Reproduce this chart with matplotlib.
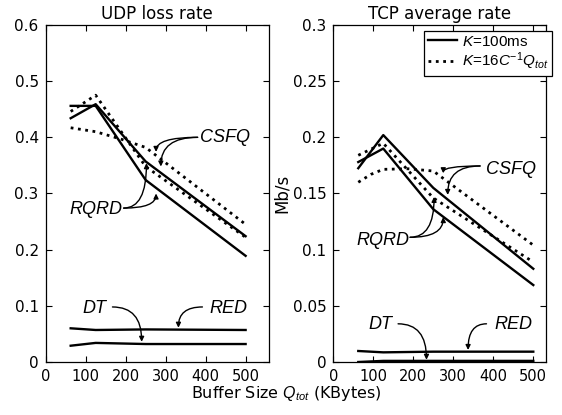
import numpy as np
import matplotlib
matplotlib.use("Agg")
import matplotlib.pyplot as plt

plt.rcParams['font.family'] = 'DejaVu Sans'
plt.rcParams['mathtext.fontset'] = 'custom'
plt.rcParams['mathtext.rm'] = 'Liberation Sans'
plt.rcParams['mathtext.it'] = 'Liberation Sans:italic'

# buffer sizes (KBytes)
qtot = [62.5, 125, 250, 500]

# UDP loss rate
udp_csfq_k100 = [0.434, 0.459, 0.357, 0.224]
udp_rqrd_k100 = [0.456, 0.456, 0.324, 0.189]
udp_rqrd_k16 = [0.446, 0.475, 0.348, 0.222]
udp_csfq_k16_x = [62.5, 125, 187.5, 250, 500]
udp_csfq_k16 = [0.417, 0.410, 0.397, 0.382, 0.245]
udp_red = [0.060, 0.057, 0.058, 0.057]
udp_dt = [0.029, 0.034, 0.032, 0.032]

# TCP average rate (Mb/s)
tcp_csfq_k100 = [0.1725, 0.202, 0.155, 0.083]
tcp_rqrd_k100 = [0.178, 0.190, 0.136, 0.0685]
tcp_rqrd_k16 = [0.184, 0.1947, 0.146, 0.089]
tcp_csfq_k16_x = [62.5, 94, 125, 187.5, 250, 500]
tcp_csfq_k16 = [0.160, 0.167, 0.1715, 0.172, 0.170, 0.104]
tcp_red = [0.0098, 0.0086, 0.0092, 0.0092]
tcp_dt = [0.0, 0.001, 0.001, 0.001]

LW = 1.7
XTICK_FS = 10.5
YTICK_FS = 11
LABEL_FS = 12
NOTE_FS = 13


def style_axes(ax, xmax, ymax, yticks):
    ax.set_xlim(0, xmax)
    ax.set_ylim(0, ymax)
    ax.set_xticks([0, 100, 200, 300, 400, 500])
    ax.set_yticks(yticks)
    ax.set_yticklabels(['0' if t == 0 else ('%g' % t) for t in yticks])
    ax.tick_params(direction='in', length=4, width=0.8, top=True, right=True)
    ax.tick_params(axis='x', labelsize=XTICK_FS, pad=5)
    ax.tick_params(axis='y', labelsize=YTICK_FS, pad=5)
    for s in ax.spines.values():
        s.set_linewidth(0.9)


def note(ax, text, xy):
    ax.text(xy[0], xy[1], text, fontsize=NOTE_FS, style='italic',
            family='Liberation Sans', ha='center', va='center')


def arrow(ax, start, end, angleB=90):
    ax.annotate('', xy=end, xytext=start,
                arrowprops=dict(arrowstyle='-|>', color='k', lw=1.0,
                                mutation_scale=7, shrinkA=0, shrinkB=0,
                                connectionstyle='angle3,angleA=0,angleB=%d' % angleB))


fig = plt.figure(figsize=(5.62, 4.15), dpi=100)
ax1 = fig.add_axes([0.0813, 0.1277, 0.397, 0.8121])
ax2 = fig.add_axes([0.593, 0.1277, 0.378, 0.8121])

# left: UDP loss rate
ax1.plot(qtot, udp_csfq_k100, 'k-', lw=LW)
ax1.plot(qtot, udp_rqrd_k100, 'k-', lw=LW)
ax1.plot(qtot, udp_rqrd_k16, 'k:', lw=LW + 0.3)
ax1.plot(udp_csfq_k16_x, udp_csfq_k16, 'k:', lw=LW + 0.3)
ax1.plot(qtot, udp_red, 'k-', lw=LW)
ax1.plot(qtot, udp_dt, 'k-', lw=LW)
style_axes(ax1, 558, 0.6, [0, 0.1, 0.2, 0.3, 0.4, 0.5, 0.6])
ax1.set_title('UDP loss rate', fontsize=LABEL_FS, pad=4)

note(ax1, 'CSFQ', (448, 0.399))
arrow(ax1, (380, 0.400), (276, 0.374))
arrow(ax1, (380, 0.400), (288, 0.348))
note(ax1, 'RQRD', (126, 0.271))
arrow(ax1, (195, 0.274), (252, 0.354))
arrow(ax1, (195, 0.274), (276, 0.300))
note(ax1, 'DT', (123, 0.096))
arrow(ax1, (167, 0.098), (240, 0.036))
note(ax1, 'RED', (458, 0.096))
arrow(ax1, (392, 0.098), (332, 0.061))

# right: TCP average rate
l1, = ax2.plot(qtot, tcp_csfq_k100, 'k-', lw=LW)
ax2.plot(qtot, tcp_rqrd_k100, 'k-', lw=LW)
l2, = ax2.plot(qtot, tcp_rqrd_k16, 'k:', lw=LW + 0.3)
ax2.plot(tcp_csfq_k16_x, tcp_csfq_k16, 'k:', lw=LW + 0.3)
ax2.plot(qtot, tcp_red, 'k-', lw=LW)
ax2.plot(qtot, tcp_dt, 'k-', lw=LW)
style_axes(ax2, 531, 0.3, [0, 0.05, 0.1, 0.15, 0.2, 0.25, 0.3])
ax2.set_title('TCP average rate', fontsize=LABEL_FS, pad=4)
ax2.set_ylabel('Mb/s', fontsize=LABEL_FS, labelpad=1)

note(ax2, 'CSFQ', (445, 0.171))
arrow(ax2, (367, 0.1745), (275, 0.168))
arrow(ax2, (367, 0.1745), (286, 0.1487))
note(ax2, 'RQRD', (124, 0.1086))
arrow(ax2, (192, 0.111), (252, 0.147))
arrow(ax2, (192, 0.111), (275, 0.129))
note(ax2, 'DT', (117, 0.033))
arrow(ax2, (162, 0.034), (233, 0.002))
note(ax2, 'RED', (450, 0.033))
arrow(ax2, (383, 0.034), (337, 0.0107))

leg = ax2.legend([l1, l2], [r'$K$=100ms', r'$K$=16$C^{-1}Q_{tot}$'],
                 loc='upper right', bbox_to_anchor=(1.03, 0.983),
                 prop={'family': 'Liberation Sans', 'size': 11},
                 handlelength=1.9, handletextpad=0.3,
                 borderpad=0.25, labelspacing=0.15, borderaxespad=0,
                 fancybox=False, framealpha=1)
leg.get_frame().set_edgecolor('k')
leg.get_frame().set_linewidth(0.9)

fig.text(0.51, 0.041, r'Buffer Size $Q_{tot}$ (KBytes)', fontsize=11.5,
         ha='center', va='baseline')

fig.savefig('out.png', dpi=100)
